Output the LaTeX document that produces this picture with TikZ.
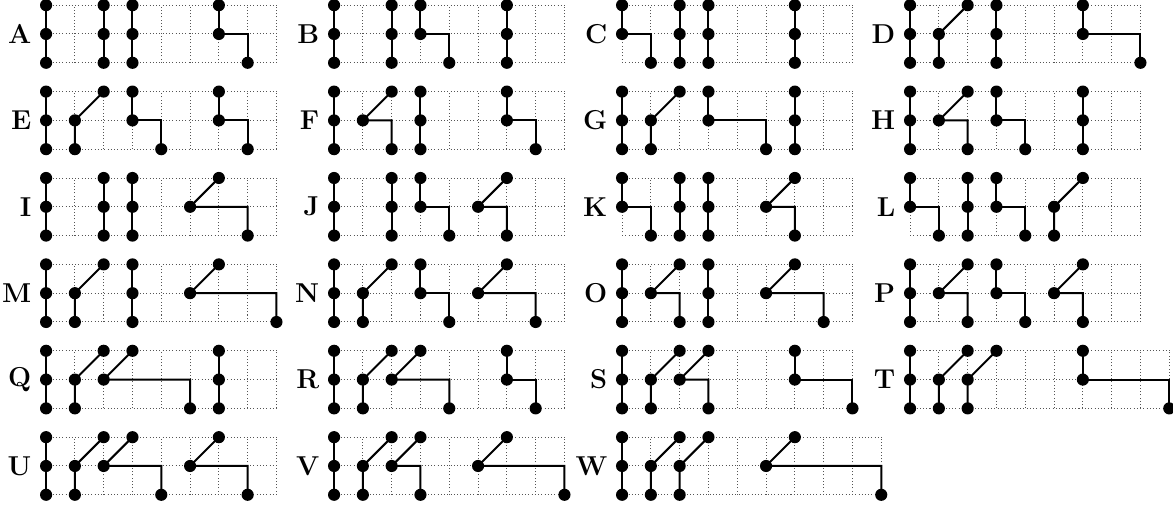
\documentclass[tikz,border=0pt]{standalone}
\usepackage{tikz}
\definecolor{gridgray}{HTML}{555555}

\newcommand{\dotr}{3pt}
\newcommand{\barcol}[1]{%
  \draw[link] (#1,0) -- (#1,2);
  \foreach \yy in {0,1,2} \fill (#1,\yy) circle (\dotr);}
\newcommand{\hookcol}[2]{%
  \draw[link] (#1,2) -- (#1,1) -| (#1+#2,0);
  \fill (#1,2) circle (\dotr) (#1,1) circle (\dotr) (#1+#2,0) circle (\dotr);}
\newcommand{\forkcol}[1]{%
  \draw[link] (#1,0) -- (#1,1) -- (#1+1,2);
  \fill (#1,0) circle (\dotr) (#1,1) circle (\dotr) (#1+1,2) circle (\dotr);}
\newcommand{\slantcol}[2]{%
  \draw[link] (#1+1,2) -- (#1,1) -| (#1+#2,0);
  \fill (#1+1,2) circle (\dotr) (#1,1) circle (\dotr) (#1+#2,0) circle (\dotr);}
\newcommand{\shapepanel}[5]{%
  \begin{scope}[shift={(#1,#2)}]
    \draw[gridline] (0,0) grid (#4,2);
    \node[lbl] (lbl#3) at (-0.5,1) {#3};
    #5
  \end{scope}}

\begin{document}
\begin{tikzpicture}[x=0.5cm, y=0.5cm,
    gridline/.style={gridgray, line width=0.5pt, dash pattern=on 0.5pt off 1.1pt, step=1},
    link/.style={line width=1pt},
    lbl/.style={anchor=east, inner sep=0pt, font=\fontsize{13.5}{15}\selectfont\bfseries}]
  \useasboundingbox (-1.6,-15.46) rectangle (39.13,2.18);
  \shapepanel{0}{0}{A}{8}{\barcol{0}\barcol{2}\barcol{3}\hookcol{6}{1}}
  \shapepanel{10}{0}{B}{8}{\barcol{0}\barcol{2}\hookcol{3}{1}\barcol{6}}
  \shapepanel{20}{0}{C}{8}{\hookcol{0}{1}\barcol{2}\barcol{3}\barcol{6}}
  \shapepanel{30}{0}{D}{8}{\barcol{0}\forkcol{1}\barcol{3}\hookcol{6}{2}}
  \shapepanel{0}{-3}{E}{8}{\barcol{0}\forkcol{1}\hookcol{3}{1}\hookcol{6}{1}}
  \shapepanel{10}{-3}{F}{8}{\barcol{0}\slantcol{1}{1}\barcol{3}\hookcol{6}{1}}
  \shapepanel{20}{-3}{G}{8}{\barcol{0}\forkcol{1}\hookcol{3}{2}\barcol{6}}
  \shapepanel{30}{-3}{H}{8}{\barcol{0}\slantcol{1}{1}\hookcol{3}{1}\barcol{6}}
  \shapepanel{0}{-6}{I}{8}{\barcol{0}\barcol{2}\barcol{3}\slantcol{5}{2}}
  \shapepanel{10}{-6}{J}{8}{\barcol{0}\barcol{2}\hookcol{3}{1}\slantcol{5}{1}}
  \shapepanel{20}{-6}{K}{8}{\hookcol{0}{1}\barcol{2}\barcol{3}\slantcol{5}{1}}
  \shapepanel{30}{-6}{L}{8}{\hookcol{0}{1}\barcol{2}\hookcol{3}{1}\forkcol{5}}
  \shapepanel{0}{-9}{M}{8}{\barcol{0}\forkcol{1}\barcol{3}\slantcol{5}{3}}
  \shapepanel{10}{-9}{N}{8}{\barcol{0}\forkcol{1}\hookcol{3}{1}\slantcol{5}{2}}
  \shapepanel{20}{-9}{O}{8}{\barcol{0}\slantcol{1}{1}\barcol{3}\slantcol{5}{2}}
  \shapepanel{30}{-9}{P}{8}{\barcol{0}\slantcol{1}{1}\hookcol{3}{1}\slantcol{5}{1}}
  \shapepanel{0}{-12}{Q}{8}{\barcol{0}\forkcol{1}\slantcol{2}{3}\barcol{6}}
  \shapepanel{10}{-12}{R}{8}{\barcol{0}\forkcol{1}\slantcol{2}{2}\hookcol{6}{1}}
  \shapepanel{20}{-12}{S}{8}{\barcol{0}\forkcol{1}\slantcol{2}{1}\hookcol{6}{2}}
  \shapepanel{30}{-12}{T}{9}{\barcol{0}\forkcol{1}\forkcol{2}\hookcol{6}{3}}
  \shapepanel{0}{-15}{U}{8}{\barcol{0}\forkcol{1}\slantcol{2}{2}\slantcol{5}{2}}
  \shapepanel{10}{-15}{V}{8}{\barcol{0}\forkcol{1}\slantcol{2}{1}\slantcol{5}{3}}
  \shapepanel{20}{-15}{W}{9}{\barcol{0}\forkcol{1}\forkcol{2}\slantcol{5}{4}}
\end{tikzpicture}
\end{document}
